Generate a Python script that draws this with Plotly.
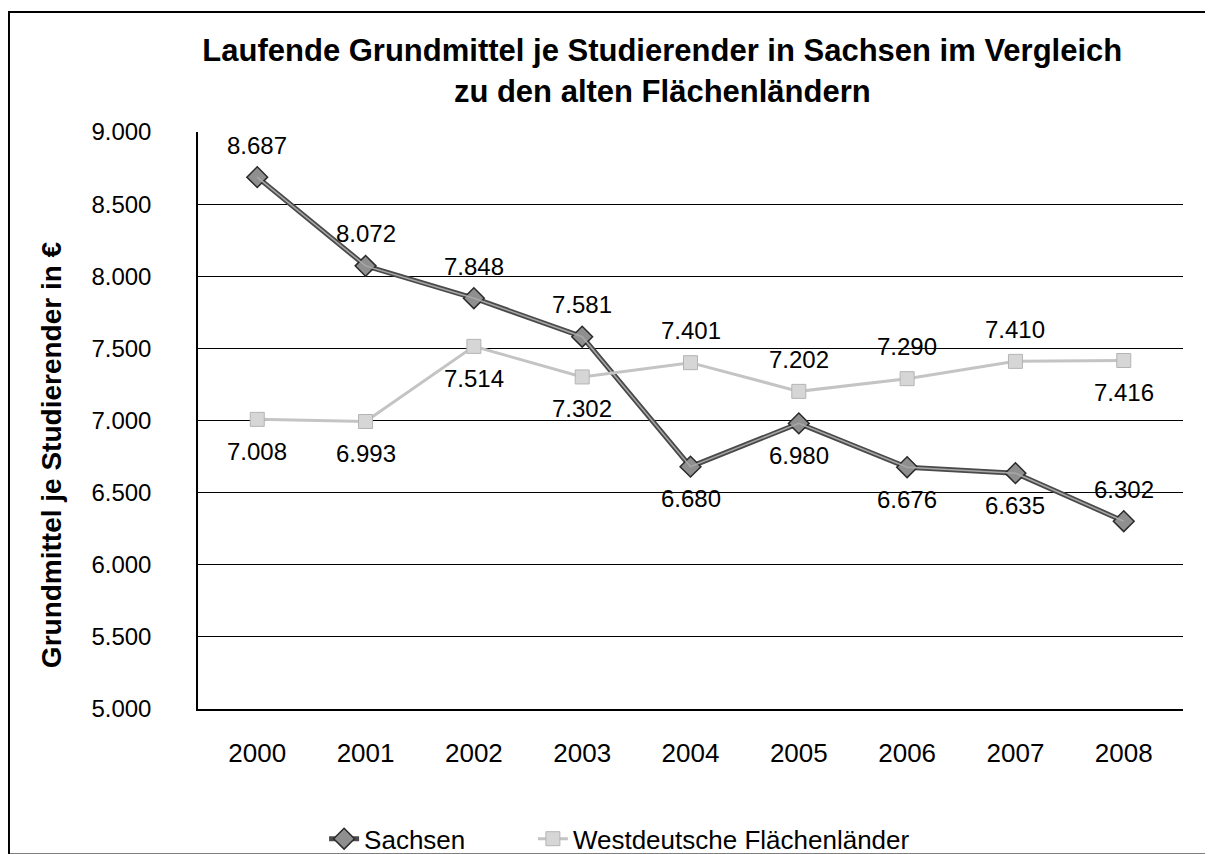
import plotly.graph_objects as go

# ------------------------------------------------------------------------------
# data
years = ["2000", "2001", "2002", "2003", "2004", "2005", "2006", "2007", "2008"]
sachsen = [8687, 8072, 7848, 7581, 6680, 6980, 6676, 6635, 6302]
west = [7008, 6993, 7514, 7302, 7401, 7202, 7290, 7410, 7416]
sachsen_labels = ["8.687", "8.072", "7.848", "7.581", "6.680", "6.980", "6.676", "6.635", "6.302"]
west_labels = ["7.008", "6.993", "7.514", "7.302", "7.401", "7.202", "7.290", "7.410", "7.416"]
# +1 = label above the point, -1 = label below
sachsen_side = [1, 1, 1, 1, -1, -1, -1, -1, 1]
west_side = [-1, -1, -1, -1, 1, 1, 1, 1, -1]

font_name = "Liberation Sans, Arial, sans-serif"

fig = go.Figure()

# Sachsen: dark outline line with lighter core
fig.add_trace(go.Scatter(
    x=years, y=sachsen, name="Sachsen", legend="legend",
    mode="lines+markers",
    line=dict(color="#4a4a4a", width=5),
    marker=dict(symbol="diamond", size=16, color="#8f8f8f",
                line=dict(color="#2a2a2a", width=1.5)),
))
fig.add_trace(go.Scatter(
    x=years, y=sachsen, showlegend=False, hoverinfo="skip",
    mode="lines", line=dict(color="#a8a8a8", width=1.5),
))

fig.add_trace(go.Scatter(
    x=years, y=west, name="Westdeutsche Flächenländer", legend="legend2",
    mode="lines+markers",
    line=dict(color="#c4c4c4", width=3),
    marker=dict(symbol="square", size=14, color="#d6d6d6",
                line=dict(color="#b4b4b4", width=1)),
))

# data labels (x given as category index)
for ys, labels, sides in [(sachsen, sachsen_labels, sachsen_side),
                          (west, west_labels, west_side)]:
    for i, (y, t, s) in enumerate(zip(ys, labels, sides)):
        fig.add_annotation(x=i, y=y, text=t, showarrow=False,
                           yshift=32 * s, font=dict(size=24, color="black"))

# y axis title as annotation (sits a bit below the plot centre)
fig.add_annotation(xref="paper", yref="paper", x=-0.167, y=0.44,
                   text="<b>Grundmittel je Studierender in €</b>",
                   textangle=-90, showarrow=False,
                   font=dict(size=28, color="black"))

legend_style = dict(orientation="h", xanchor="left",
                    yref="container", y=0.018, yanchor="middle",
                    font=dict(size=26), bgcolor="rgba(0,0,0,0)")

fig.update_layout(
    width=1205, height=846,
    paper_bgcolor="white", plot_bgcolor="white",
    separators=",.",
    margin=dict(l=190, r=30, t=124, b=145, autoexpand=False),
    font=dict(family=font_name, size=24, color="black"),
    title=dict(
        text="<b>Laufende Grundmittel je Studierender in Sachsen im Vergleich<br>zu den alten Flächenländern</b>",
        x=0.543, xanchor="center", y=0.937, yanchor="top",
        font=dict(size=31, family=font_name),
    ),
    xaxis=dict(
        type="category", showgrid=False, ticks="", automargin=False,
        showline=True, linecolor="black", linewidth=1.5,
        tickfont=dict(size=26), ticklabelstandoff=20,
    ),
    yaxis=dict(
        range=[5000, 9000], dtick=500, tickformat=",.0f", automargin=False,
        showgrid=True, gridcolor="black", gridwidth=1.2,
        showline=True, linecolor="black", linewidth=1.5,
        ticks="", ticklabelstandoff=40,
        tickfont=dict(size=24),
    ),
    legend=dict(x=0.128, **legend_style),
    legend2=dict(x=0.34, **legend_style),
    showlegend=True,
)

# outer chart border
fig.add_shape(type="rect", xref="paper", yref="paper",
              x0=-0.1919, x1=1.0284, y0=-0.252, y1=1.208,
              line=dict(color="black", width=2))

fig.write_html("out.html")
